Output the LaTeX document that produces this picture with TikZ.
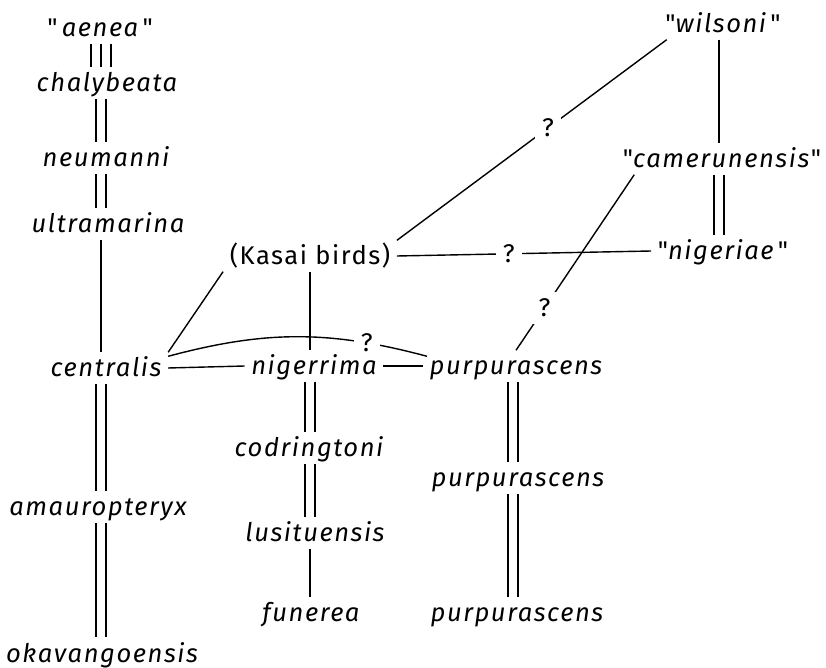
\documentclass[tikz,border=0pt]{standalone}
\usepackage{fontspec}
\setmainfont[LetterSpace=6]{Fira Sans}
\newcommand{\sq}{\textup{\textquotedbl}}

\tikzset{
  taxon/.style={anchor=base, inner sep=3pt, text height=9pt, text depth=0pt,
    font=\fontsize{12.8}{15}\selectfont\itshape},
  group/.style={anchor=base, inner sep=3pt, text height=9pt, text depth=0pt,
    font=\fontsize{12.8}{15}\selectfont},
  query/.style={fill=white, inner sep=3.5pt, font=\fontsize{12.8}{15}\selectfont},
  syn/.style={double, double distance=4.4pt},
}

\begin{document}
\begin{tikzpicture}[x=0.5pt, y=-0.5pt, line width=0.7pt]
  \useasboundingbox (0,0) rectangle (826,668);
  % the four columns
  \coordinate (colA) at (101,0);
  \coordinate (colB) at (310,0);
  \coordinate (colC) at (513,0);
  \coordinate (colD) at (719,0);

  % left column
  \node[taxon] (aenea) at (100,37) {\sq\,aenea\,\sq};
  \node[taxon] (chalybeata) at (107,92) {chalybeata};
  \node[taxon] (neumanni) at (106,167) {neumanni};
  \node[taxon] (ultramarina) at (108,233) {ultramarina};
  \node[taxon] (centralis) at (106,377) {centralis};
  \node[taxon] (amauropteryx) at (98,516) {amauropteryx};
  \node[taxon] (okavangoensis) at (102,662) {okavangoensis};

  % middle column
  \node[group] (kasai) at (310,265) {(Kasai birds)};
  \node[taxon] (nigerrima) at (314,375) {nigerrima};
  \node[taxon] (codringtoni) at (309,457) {codringtoni};
  \node[taxon] (lusituensis) at (315,542) {lusituensis};
  \node[taxon] (funerea) at (311,622) {funerea};

  % purpurascens
  \node[taxon] (purpA) at (516,375) {purpurascens};
  \node[taxon] (purpB) at (518,487) {purpurascens};
  \node[taxon] (purpC) at (517,622) {purpurascens};

  % right column
  \node[taxon] (wilsoni) at (723,33) {\sq wilsoni\,\sq};
  \node[taxon] (camerunensis) at (722,168) {\sq camerunensis\sq};
  \node[taxon] (nigeriae) at (723,260) {\sq nigeriae\,\sq};

  % left column links
  \draw[syn, double distance=9.4pt] (aenea.south -| colA) -- (chalybeata.north -| colA);
  \draw (aenea.south -| colA) -- (chalybeata.north -| colA);
  \draw[syn] (chalybeata.south -| colA) -- (neumanni.north -| colA);
  \draw[syn] (neumanni.south -| colA) -- (ultramarina.north -| colA);
  \draw (ultramarina.south -| colA) -- (centralis.north -| colA);
  \draw[syn] (centralis.south -| colA) -- (amauropteryx.north -| colA);
  \draw[syn] (amauropteryx.south -| colA) -- (okavangoensis.north -| colA);

  % middle column links
  \draw (kasai.south -| colB) -- (nigerrima.north -| colB);
  \draw[syn] (nigerrima.south -| colB) -- (codringtoni.north -| colB);
  \draw[syn] (codringtoni.south -| colB) -- (lusituensis.north -| colB);
  \draw (lusituensis.south -| colB) -- (funerea.north -| colB);

  % purpurascens links
  \draw[syn] (purpA.south -| colC) -- (purpB.north -| colC);
  \draw[syn] (purpB.south -| colC) -- (purpC.north -| colC);

  % right column links
  \draw (wilsoni.south -| colD) -- (camerunensis.north -| colD);
  \draw[syn] (camerunensis.south -| colD) -- (nigeriae.north -| colD);

  % cross links
  \draw (kasai.south west) -- (centralis.north east);
  \draw (centralis.east) -- (nigerrima.west);
  \draw (nigerrima.east) -- (purpA.west);
  \draw ([yshift=-2pt]centralis.north east) to[bend left=15]
    node[query, pos=0.78] {?} ([xshift=2pt, yshift=-3pt]purpA.north west);
  \draw (kasai.north east) -- node[query, pos=0.56] {?} ([xshift=4pt]wilsoni.south west);
  \draw (kasai.east) -- node[query, pos=0.44] {?} (nigeriae.west);
  \draw ([xshift=9pt]camerunensis.south west) -- node[query, pos=0.76] {?} (purpA.north);
\end{tikzpicture}
\end{document}
